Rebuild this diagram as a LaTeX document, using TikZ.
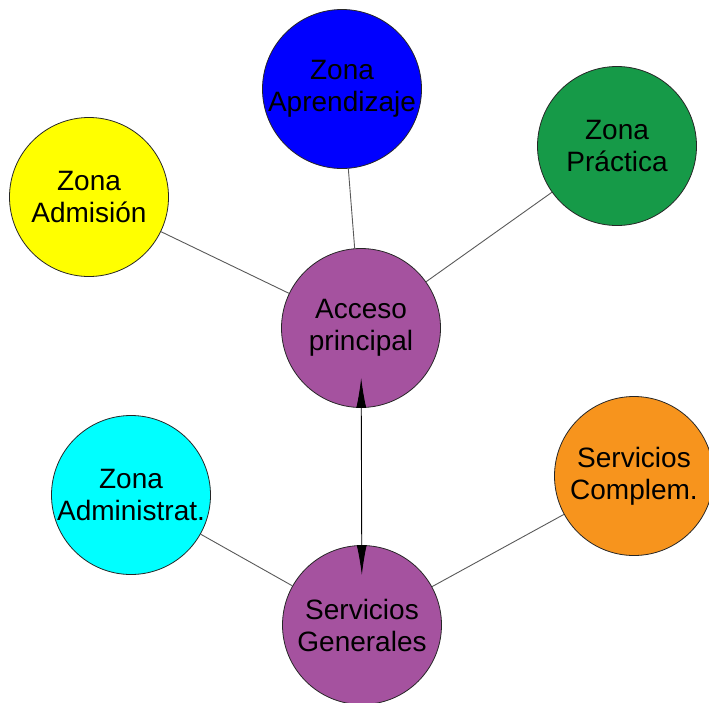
\documentclass[tikz,border=0pt]{standalone}
\usepackage{fontspec}
\setmainfont{Liberation Sans}
\usetikzlibrary{arrows.meta}

\definecolor{zblue}{RGB}{0,0,255}
\definecolor{zgreen}{RGB}{22,154,72}
\definecolor{zyellow}{RGB}{255,255,0}
\definecolor{zpurple}{RGB}{165,82,159}
\definecolor{zcyan}{RGB}{0,255,255}
\definecolor{zorange}{RGB}{247,148,29}

\begin{document}
\begin{tikzpicture}[x=1pt,y=-1pt,
    zona/.style={circle,draw=black!85,line width=0.8pt,minimum size=159pt,inner sep=0pt,
      align=center,font=\fontsize{28}{32}\selectfont},
    enlace/.style={draw=black!65,line width=0.9pt}]
    \useasboundingbox (0,0) rectangle (709,702);
    \node[zona,fill=zblue] (aprend) at (342,89) {Zona\\Aprendizaje};
    \node[zona,fill=zgreen] (practica) at (617,146) {Zona\\Práctica};
    \node[zona,fill=zyellow] (admision) at (89,197) {Zona\\Admisión};
    \node[zona,fill=zpurple] (acceso) at (361,328) {Acceso\\principal};
    \node[zona,fill=zcyan] (admin) at (131,495) {Zona\\Administrat.};
    \node[zona,fill=zorange] (complem) at (634,476) {Servicios\\Complem.};
    \node[zona,fill=zpurple] (generales) at (362,625) {Servicios\\Generales};
    \draw[enlace] (acceso) -- (aprend);
    \draw[enlace] (acceso) -- (practica);
    \draw[enlace] (acceso) -- (admision);
    \draw[enlace] (generales) -- (admin);
    \draw[enlace] (generales) -- (complem);
    \draw[line width=0.9pt,{Latex[length=30pt,width=10pt]}-{Latex[length=30pt,width=10pt]},
      shorten <=-30pt,shorten >=-30pt] (acceso) -- (generales);
  \end{tikzpicture}
\end{document}
